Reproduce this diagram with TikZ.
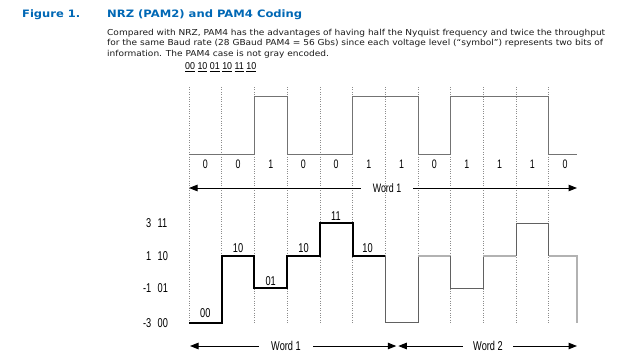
\documentclass[tikz,border=0pt]{standalone}
\usepackage{fontspec}
\usepackage{graphicx}
\setmainfont{DejaVu Sans}
\newfontfamily\condfont[FakeStretch=0.72]{Liberation Sans}
\usetikzlibrary{arrows.meta}
\definecolor{intelblue}{HTML}{0068B5}
\definecolor{bodytext}{HTML}{1A1A1A}
\newlength\mybodylen
\AtBeginDocument{%
  \settowidth{\mybodylen}{\fontsize{8.2}{10}\selectfont Compared with NRZ, PAM4 has the advantages of having half the Nyquist frequency and twice the throughput}%
  \pgfmathsetmacro\mybsc{498/\the\mybodylen}%
  \global\let\mybsc\mybsc}
\begin{document}
\begin{tikzpicture}[x=1pt,y=-1pt,
  lbl/.style={font=\condfont\fontsize{12.8}{14}\selectfont, inner sep=0pt},
  toplbl/.style={font=\condfont\fontsize{12.3}{13}\selectfont, inner sep=0pt},
  body/.style={font=\fontsize{8.2}{10}\selectfont, text=bodytext, inner sep=0pt, anchor=base west},
  hdr/.style={font=\bfseries\fontsize{10.2}{12}\selectfont, text=intelblue, inner sep=0pt, anchor=base west},
  dotv/.style={draw=black!45, line width=0.6pt, dash pattern=on 1pt off 1.4pt},
  nrz/.style={draw=black!55, line width=0.8pt},
  wone/.style={draw=black, line width=2pt},
  wtwodark/.style={draw=black!62, line width=0.8pt},
  wtwolight/.style={draw=black!30, line width=1.6pt},
  warrow/.style={draw=black, line width=1pt, -{Triangle[length=8.5pt,width=6.5pt]}}
]
\fill[white] (0,0) rectangle (640,360);
\useasboundingbox (0,0) rectangle (640,360);

% header
\node[hdr] (fig) at (22,17.3) {\resizebox{58pt}{\height}{Figure 1.}};
\node[hdr] (title) at (107,17.3) {\resizebox{195pt}{\height}{NRZ (PAM2) and PAM4 Coding}};

\node[body] (l1) at (107,35) {\scalebox{\mybsc}[1]{Compared with NRZ, PAM4 has the advantages of having half the Nyquist frequency and twice the throughput}};
\node[body] (l2) at (107,45.6) {\scalebox{\mybsc}[1]{for the same Baud rate (28 GBaud PAM4 = 56 Gbs) since each voltage level (\char"201Csymbol\char"201D) represents two bits of}};
\node[body] (l3) at (107,56) {\scalebox{\mybsc}[1]{information. The PAM4 case is not gray encoded.}};

\node[inner sep=0pt, anchor=base west, font=\condfont\fontsize{10}{11}\selectfont] (seq) at (185,69.5)
  {\resizebox{71pt}{\height}{\underline{00} \underline{10} \underline{01} \underline{10} \underline{11} \underline{10}}};

% dotted grid
\foreach \k in {0,...,11} {
  \draw[dotv] ({189+32.7*\k},87) -- ({189+32.7*\k},322.7);
}

% positions
\def\xa{189}\def\xb{221.7}\def\xc{254.4}\def\xd{287.1}\def\xe{319.8}\def\xf{352.5}
\def\xg{385.2}\def\xh{417.9}\def\xi{450.6}\def\xj{483.3}\def\xk{516}\def\xl{548.7}\def\xm{577}
\def\H{96}\def\L{154.3}

% NRZ signal
\draw[nrz] (\xa,\L) -- (\xc,\L) -- (\xc,\H) -- (\xd,\H) -- (\xd,\L) -- (\xf,\L) -- (\xf,\H)
  -- (\xh,\H) -- (\xh,\L) -- (\xi,\L) -- (\xi,\H) -- (\xl,\H) -- (\xl,\L) -- (\xm,\L);

% bits
\foreach \b [count=\i from 0] in {0,0,1,0,0,1,1,0,1,1,1,0} {
  \node[toplbl] (bit\i) at ({205.35+32.7*\i},164.3) {\b};
}

% top word arrow
\node[toplbl, minimum width=52pt] (tw) at (387,188) {Word 1};
\coordinate (tl) at (189,188);
\coordinate (tr) at (577,188);
\draw[warrow] (tw.west) -- (tl);
\draw[warrow] (tw.east) -- (tr);

% PAM4 levels
\def\ya{223.3}\def\yb{255.7}\def\yc{288.3}\def\yd{322.7}

% axis labels
\node[lbl, anchor=east] (v3) at (151.5,\ya) {3};
\node[lbl, anchor=west] (c3) at (157.5,\ya) {11};
\node[lbl, anchor=east] (v1) at (151.5,\yb) {1};
\node[lbl, anchor=west] (c1) at (157.5,\yb) {10};
\node[lbl, anchor=east] (vm1) at (151.5,\yc) {-1};
\node[lbl, anchor=west] (cm1) at (157.5,\yc) {01};
\node[lbl, anchor=east] (vm3) at (151.5,\yd) {-3};
\node[lbl, anchor=west] (cm3) at (157.5,\yd) {00};

% word 2 (grey)
\draw[wtwodark] (\xg,\yb) -- (\xg,\yd) -- (\xh,\yd) -- (\xh,\yb);
\draw[wtwolight] (\xh,\yb) -- (\xi,\yb);
\draw[wtwodark] (\xi,\yb) -- (\xi,\yc) -- (\xj,\yc) -- (\xj,\yb);
\draw[wtwolight] (\xj,\yb) -- (\xk,\yb);
\draw[wtwodark] (\xk,\yb) -- (\xk,\ya) -- (\xl,\ya) -- (\xl,\yb);
\draw[wtwolight] (\xl,\yb) -- (\xm,\yb) -- (\xm,\yd);

% word 1 (black)
\draw[wone] (\xa,\yd) -- (\xb,\yd) -- (\xb,\yb) -- (\xc,\yb) -- (\xc,\yc) -- (\xd,\yc) -- (\xd,\yb)
  -- (\xe,\yb) -- (\xe,\ya) -- (\xf,\ya) -- (\xf,\yb) -- (\xg,\yb);

% symbol labels
\node[lbl] (s1) at (205.3,313) {00};
\node[lbl] (s2) at (238,248) {10};
\node[lbl] (s3) at (270.7,281) {01};
\node[lbl] (s4) at (303.5,248) {10};
\node[lbl] (s5) at (336,216) {11};
\node[lbl] (s6) at (367.5,248) {10};

% bottom word arrows
\node[lbl, minimum width=54pt] (bw1) at (286,346) {Word 1};
\node[lbl, minimum width=50pt] (bw2) at (488,346) {Word 2};
\coordinate (b1l) at (190,346);
\coordinate (b1r) at (396.3,346);
\coordinate (b2l) at (398.3,346);
\coordinate (b2r) at (577,346);
\draw[warrow] (bw1.west) -- (b1l);
\draw[warrow] (bw1.east) -- (b1r);
\draw[warrow] (bw2.west) -- (b2l);
\draw[warrow] (bw2.east) -- (b2r);
\end{tikzpicture}
\end{document}
